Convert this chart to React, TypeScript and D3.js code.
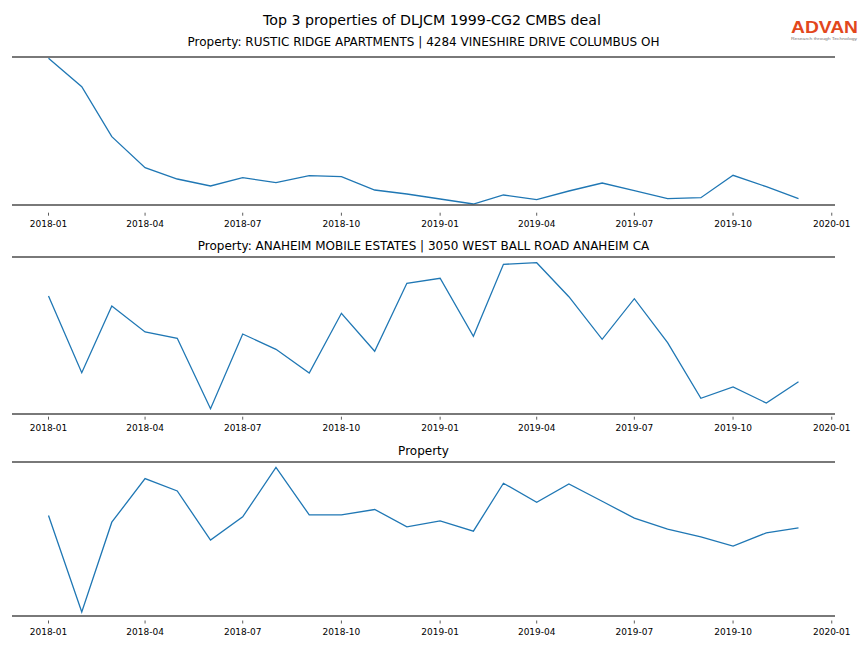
import * as d3 from 'd3';

// monthly observations, 2018-01 .. 2019-12
const months = [
  '2018-01', '2018-02', '2018-03', '2018-04', '2018-05', '2018-06',
  '2018-07', '2018-08', '2018-09', '2018-10', '2018-11', '2018-12',
  '2019-01', '2019-02', '2019-03', '2019-04', '2019-05', '2019-06',
  '2019-07', '2019-08', '2019-09', '2019-10', '2019-11', '2019-12',
];

const rusticRidge = [
  1467, 1183, 683, 373, 260, 190, 273, 223, 293, 283, 150, 110,
  60, 10, 100, 53, 140, 220, 143, 63, 73, 297, 183, 63,
];
const anaheimMobile = [
  1180, 413, 1080, 820, 757, 53, 800, 647, 410, 1007, 627, 1307,
  1357, 777, 1497, 1513, 1173, 747, 1153, 713, 157, 270, 110, 323,
];
const thirdProperty = [
  1007, 40, 940, 1377, 1253, 760, 993, 1490, 1013, 1013, 1067, 893,
  953, 850, 1330, 1140, 1323, 1150, 980, 870, 793, 700, 833, 883,
];

const panelTitles = [
  'Property: RUSTIC RIDGE APARTMENTS | 4284 VINESHIRE DRIVE COLUMBUS OH',
  'Property: ANAHEIM MOBILE ESTATES | 3050 WEST BALL ROAD ANAHEIM CA',
  'Property',
];
const seriesList = [rusticRidge, anaheimMobile, thirdProperty];
const yDomains: [number, number][] = [
  [0, 1480],
  [0, 1570],
  [0, 1543],
];
const tickLabels = [
  '2018-01', '2018-04', '2018-07', '2018-10', '2019-01',
  '2019-04', '2019-07', '2019-10', '2020-01',
];

const W = 864;
const H = 648;
// tickGap: how far below the bottom spine the ticks start, it differs per panel
const panels = [
  { top: 57, bottom: 205, tickGap: 7.7, titleGap: 11 },
  { top: 257, bottom: 414, tickGap: 2.7, titleGap: 7 },
  { top: 462, bottom: 616, tickGap: 4.5, titleGap: 7.5 },
];
const FONT = 'DejaVu Sans, sans-serif';

const parse = d3.timeParse('%Y-%m');

export default function App() {
  const dates = months.map((m) => parse(m)!);
  const d0 = dates[0].getTime();
  const d1 = dates[dates.length - 1].getTime();
  const pad = (d1 - d0) * 0.05;
  const x = d3
    .scaleTime()
    .domain([new Date(d0 - pad), new Date(d1 + pad)])
    .range([11, 836]);
  const ticks = tickLabels.map((t) => parse(t)!);

  return (
    <svg
      width={W}
      height={H}
      style={{ position: 'absolute', left: 0, top: 0, background: '#fff' }}
      fontFamily={FONT}
    >
      <text x={432} y={24.5} textAnchor='middle' fontSize={14.2}>
        Top 3 properties of DLJCM 1999-CG2 CMBS deal
      </text>

      {/* logo */}
      <text
        x={791}
        y={32.8}
        fontSize={16}
        fontWeight={600}
        fontFamily='Liberation Sans, Arial, sans-serif'
        fill='#e2471c'
        textLength={67}
        lengthAdjust='spacingAndGlyphs'
      >
        ADVAN
      </text>
      <text
        x={791}
        y={40.3}
        fontSize={4}
        fill='#777'
        fontFamily='Liberation Sans, Arial, sans-serif'
        textLength={66}
        lengthAdjust='spacingAndGlyphs'
      >
        Research through Technology
      </text>

      {panels.map((p, i) => {
        const y = d3.scaleLinear().domain(yDomains[i]).range([p.bottom, p.top]);
        const line = d3
          .line<number>()
          .x((_, j) => x(dates[j]))
          .y((v) => y(v));
        return (
          <g key={i}>
            <text
              x={(12 + 835) / 2}
              y={p.top - p.titleGap}
              textAnchor='middle'
              fontSize={12}
            >
              {panelTitles[i]}
            </text>
            <path
              d={line(seriesList[i]) ?? ''}
              fill='none'
              stroke='#1f77b4'
              strokeWidth={1.3}
            />
            <line x1={12} x2={835} y1={p.top} y2={p.top} stroke='#4d4d4d' strokeWidth={1.6} />
            <line x1={12} x2={835} y1={p.bottom} y2={p.bottom} stroke='#4d4d4d' strokeWidth={1.6} />
            {ticks.map((t, k) => (
              <g key={k} transform={`translate(${x(t)},${p.bottom + p.tickGap})`}>
                <line y1={0} y2={3} stroke='#333' strokeWidth={0.8} />
                <text y={14.7} textAnchor='middle' fontSize={9}>
                  {tickLabels[k]}
                </text>
              </g>
            ))}
          </g>
        );
      })}
    </svg>
  );
}
